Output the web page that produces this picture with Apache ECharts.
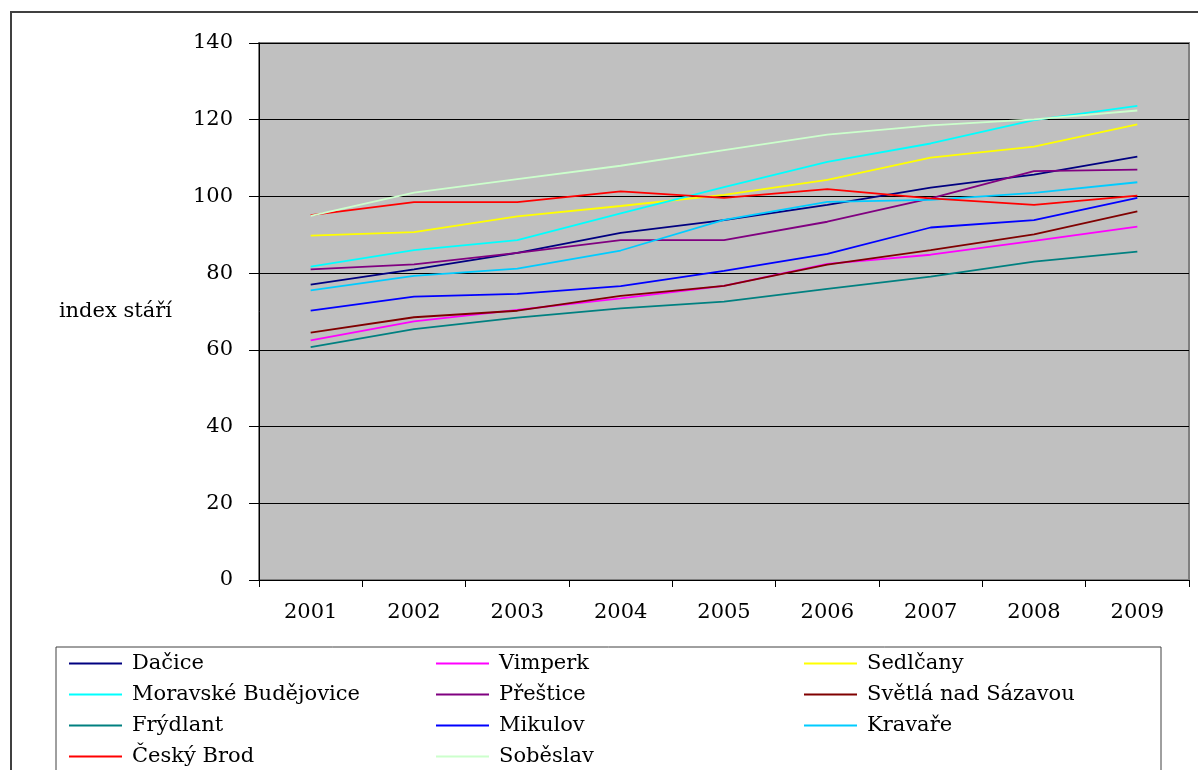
<!DOCTYPE html>
<html>
<head>
<meta charset="utf-8">
<script src="https://cdn.jsdelivr.net/npm/echarts@6/dist/echarts.min.js"></script>
<style>
  html, body { margin: 0; padding: 0; background: #ffffff; }
  #chart { width: 1198px; height: 770px; }
</style>
</head>
<body>
<div id="chart"></div>
<script>
// Index stáří (ageing index) of selected towns, 2001–2009
const years = ['2001', '2002', '2003', '2004', '2005', '2006', '2007', '2008', '2009'];

const dacice     = [77.0, 81.0, 85.3, 90.5, 93.8, 97.8, 102.3, 105.7, 110.4];
const vimperk    = [62.5, 67.4, 70.4, 73.4, 76.7, 82.4, 84.8, 88.4, 92.1];
const sedlcany   = [89.8, 90.7, 94.8, 97.5, 100.4, 104.3, 110.1, 113.0, 118.8];
const moravske   = [81.7, 86.0, 88.6, 95.6, 102.4, 109.0, 113.8, 119.9, 123.6];
const prestice   = [81.0, 82.3, 85.3, 88.6, 88.6, 93.4, 99.5, 106.6, 107.0];
const svetla     = [64.5, 68.5, 70.2, 74.1, 76.7, 82.2, 86.0, 90.1, 96.1];
const frydlant   = [60.7, 65.4, 68.4, 70.8, 72.6, 75.9, 79.1, 83.0, 85.6];
const mikulov    = [70.2, 73.9, 74.6, 76.6, 80.6, 85.0, 91.9, 93.8, 99.6];
const kravare    = [75.5, 79.3, 81.2, 85.9, 93.9, 98.6, 99.1, 100.9, 103.7];
const ceskyBrod  = [95.1, 98.5, 98.5, 101.3, 99.6, 101.9, 99.5, 97.8, 100.2];
const sobeslav   = [94.9, 101.0, 104.5, 108.0, 112.1, 116.1, 118.5, 120.1, 122.4];

const seriesDefs = [
  { name: 'Dačice', data: dacice, color: '#000080' },
  { name: 'Vimperk', data: vimperk, color: '#FF00FF' },
  { name: 'Sedlčany', data: sedlcany, color: '#FFFF00' },
  { name: 'Moravské Budějovice', data: moravske, color: '#00FFFF' },
  { name: 'Přeštice', data: prestice, color: '#800080' },
  { name: 'Světlá nad Sázavou', data: svetla, color: '#800000' },
  { name: 'Frýdlant', data: frydlant, color: '#008080' },
  { name: 'Mikulov', data: mikulov, color: '#0000FF' },
  { name: 'Kravaře', data: kravare, color: '#00CCFF' },
  { name: 'Český Brod', data: ceskyBrod, color: '#FF0000' },
  { name: 'Soběslav', data: sobeslav, color: '#CCFFCC' }
];

// legend columns (row-major order across three columns)
const legendCol1 = ['Dačice', 'Moravské Budějovice', 'Frýdlant', 'Český Brod'];
const legendCol2 = ['Vimperk', 'Přeštice', 'Mikulov', 'Soběslav'];
const legendCol3 = ['Sedlčany', 'Světlá nad Sázavou', 'Kravaře'];

const FONT = 'DejaVu Serif';
const FONT_SIZE = 21;

function legendAt(left, names) {
  return {
    orient: 'vertical',
    left: left,
    top: 653,
    padding: 0,
    itemGap: 10,
    itemWidth: 53,
    itemHeight: 2,
    icon: 'rect',
    data: names,
    selectedMode: false,
    textStyle: {
      fontFamily: FONT,
      fontSize: FONT_SIZE,
      lineHeight: 21,
      color: '#000000',
      padding: [0, 0, 0, 5]
    }
  };
}

const chart = echarts.init(document.getElementById('chart'), null, { renderer: 'canvas' });

chart.setOption({
  animation: false,
  backgroundColor: '#ffffff',
  color: seriesDefs.map(s => s.color),
  graphic: [
    {
      type: 'rect',
      shape: { x: 11, y: 12, width: 1240, height: 800 },
      style: { fill: 'none', stroke: '#404040', lineWidth: 2 },
      silent: true,
      z: -10
    },
    {
      type: 'rect',
      shape: { x: 56, y: 647, width: 1105, height: 200 },
      style: { fill: 'none', stroke: '#404040', lineWidth: 1 },
      silent: true,
      z: -10
    }
  ],
  grid: {
    left: 259,
    top: 43,
    right: 9,
    bottom: 190,
    show: true,
    backgroundColor: '#C0C0C0',
    borderColor: '#808080',
    borderWidth: 2
  },
  legend: [
    legendAt(69, legendCol1),
    legendAt(436, legendCol2),
    legendAt(804, legendCol3)
  ],
  xAxis: {
    type: 'category',
    data: years,
    boundaryGap: true,
    axisLine: { show: true, lineStyle: { color: '#000000', width: 1 } },
    axisTick: { show: true, length: 7, lineStyle: { color: '#000000' } },
    axisLabel: {
      margin: 22,
      fontFamily: FONT,
      fontSize: FONT_SIZE,
      color: '#000000'
    },
    splitLine: { show: false }
  },
  yAxis: {
    type: 'value',
    min: 0,
    max: 140,
    interval: 20,
    name: 'index stáří',
    nameLocation: 'middle',
    nameRotate: 0,
    nameGap: 87,
    nameTextStyle: {
      fontFamily: FONT,
      fontSize: FONT_SIZE,
      color: '#000000'
    },
    axisLine: { show: true, lineStyle: { color: '#000000', width: 1 } },
    axisTick: { show: true, length: 10, lineStyle: { color: '#000000' } },
    axisLabel: {
      margin: 26,
      fontFamily: FONT,
      fontSize: FONT_SIZE,
      color: '#000000'
    },
    splitLine: { show: true, lineStyle: { color: '#000000', width: 1 } }
  },
  series: seriesDefs.map(s => ({
    name: s.name,
    type: 'line',
    data: s.data,
    showSymbol: false,
    symbol: 'none',
    lineStyle: { color: s.color, width: 1.8 },
    itemStyle: { color: s.color },
    emphasis: { disabled: true }
  }))
});
</script>
</body>
</html>
